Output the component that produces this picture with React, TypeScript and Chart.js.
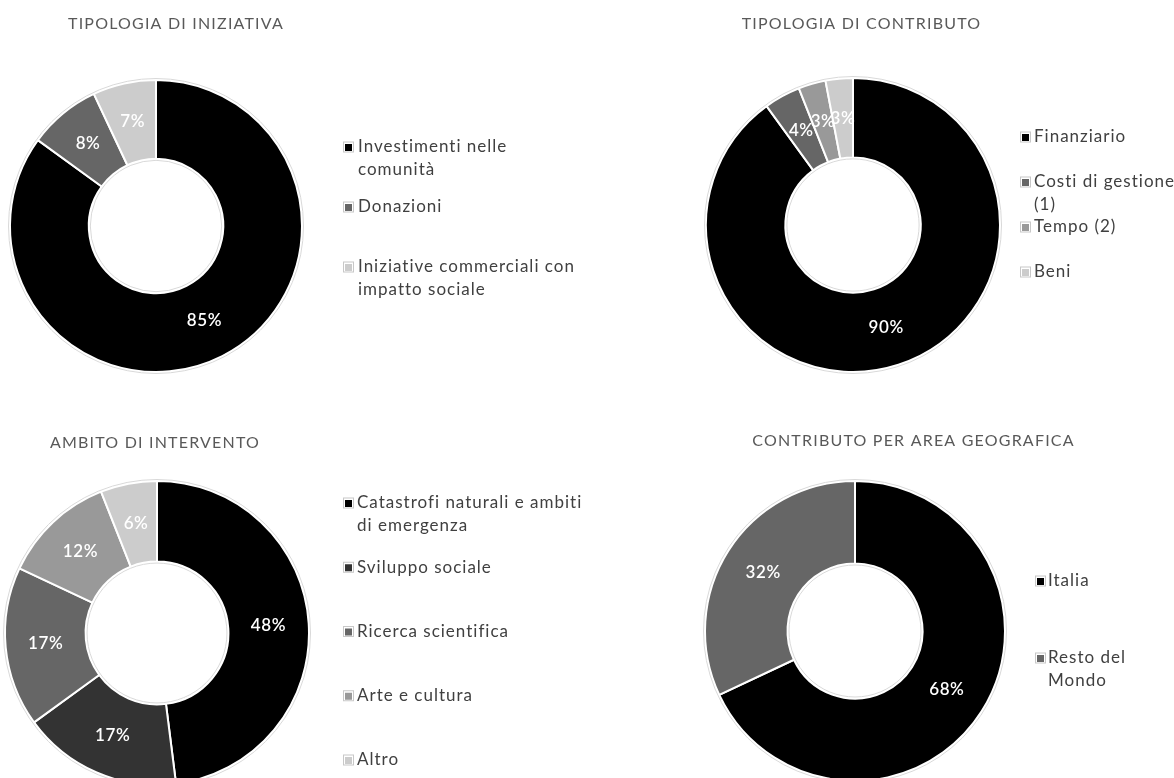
import React, { useEffect, useRef } from "react";
import { Chart, registerables } from "chart.js";

Chart.register(...registerables);

const FONT = "Lato, 'DejaVu Sans', sans-serif";

// ---- Data ----
const iniziativaLabels = ["Investimenti nelle\ncomunità", "Donazioni", "Iniziative commerciali con\nimpatto sociale"];
const iniziativaValues = [85, 8, 7];

const contributoLabels = ["Finanziario", "Costi di gestione\n(1)", "Tempo (2)", "Beni"];
const contributoValues = [90, 4, 3, 3];

const ambitoLabels = [
  "Catastrofi naturali e ambiti\ndi emergenza",
  "Sviluppo sociale",
  "Ricerca scientifica",
  "Arte e cultura",
  "Altro",
];
const ambitoValues = [48, 17, 17, 12, 6];

const areaLabels = ["Italia", "Resto del\nMondo"];
const areaValues = [68, 32];

// ---- Styles / layout ----
const PAL3 = ["#000000", "#666666", "#cccccc"];
const PAL4 = ["#000000", "#666666", "#999999", "#cccccc"];
const PAL5 = ["#000000", "#333333", "#666666", "#999999", "#cccccc"];
const PAL2 = ["#000000", "#666666"];

const QW = 587;
const QH = 389;

type Panel = {
  title: string;
  labels: string[];
  values: number[];
  colors: string[];
  left: number;
  top: number;
  cx: number;
  cy: number;
  r: number;
  cutout: string;
  titleX: number;
  titleY: number;
  markerX: number;
  textX: number;
  legendY: number;
  legendStep: number;
};

const panels: Panel[] = [
  {
    title: "TIPOLOGIA DI INIZIATIVA",
    labels: iniziativaLabels,
    values: iniziativaValues,
    colors: PAL3,
    left: 0, top: 0,
    cx: 156, cy: 226, r: 146, cutout: "46%",
    titleX: 176, titleY: 24,
    markerX: 343, textX: 358, legendY: 147, legendStep: 60,
  },
  {
    title: "TIPOLOGIA DI CONTRIBUTO",
    labels: contributoLabels,
    values: contributoValues,
    colors: PAL4,
    left: QW, top: 0,
    cx: 266, cy: 225, r: 147, cutout: "46%",
    titleX: 274.5, titleY: 24,
    markerX: 433, textX: 447, legendY: 137, legendStep: 45,
  },
  {
    title: "AMBITO DI INTERVENTO",
    labels: ambitoLabels,
    values: ambitoValues,
    colors: PAL5,
    left: 0, top: QH,
    cx: 157, cy: 244, r: 152, cutout: "47%",
    titleX: 155, titleY: 54,
    markerX: 343, textX: 357, legendY: 114, legendStep: 64.25,
  },
  {
    title: "CONTRIBUTO PER AREA GEOGRAFICA",
    labels: areaLabels,
    values: areaValues,
    colors: PAL2,
    left: QW, top: QH,
    cx: 268, cy: 242, r: 150, cutout: "45%",
    titleX: 326.5, titleY: 52,
    markerX: 448, textX: 461, legendY: 192, legendStep: 77,
  },
];

const decorPlugin = {
  id: "decor",
  afterDatasetsDraw(chart: any) {
    const ctx: CanvasRenderingContext2D = chart.ctx;
    const meta = chart.getDatasetMeta(0);
    const a0: any = meta.data[0];
    if (!a0) return;
    const { x, y, outerRadius, innerRadius } = a0.getProps(["x", "y", "outerRadius", "innerRadius"], true);
    ctx.save();
    ctx.strokeStyle = "#d9d9d9";
    ctx.lineWidth = 1;
    ctx.beginPath();
    ctx.arc(x, y, outerRadius + 1.5, 0, Math.PI * 2);
    ctx.stroke();
    ctx.beginPath();
    ctx.arc(x, y, innerRadius - 1.5, 0, Math.PI * 2);
    ctx.stroke();

    // value labels at the middle of each ring segment
    ctx.font = `600 17px ${FONT}`;
    (ctx as any).letterSpacing = "0.6px";
    ctx.fillStyle = "#ffffff";
    ctx.textAlign = "center";
    ctx.textBaseline = "middle";
    const values = chart.data.datasets[0].data as number[];
    meta.data.forEach((el: any, i: number) => {
      const p = el.tooltipPosition(true);
      ctx.fillText(values[i] + "%", p.x, p.y);
    });
    ctx.restore();
  },
  afterDraw(chart: any, _args: any, opts: any) {
    const ctx: CanvasRenderingContext2D = chart.ctx;
    ctx.save();
    // title
    ctx.font = `400 16px ${FONT}`;
    (ctx as any).letterSpacing = "1.2px";
    ctx.fillStyle = "#595959";
    ctx.textAlign = "center";
    ctx.textBaseline = "middle";
    ctx.fillText(opts.title, opts.titleX, opts.titleY);

    // legend
    const labels: string[] = chart.data.labels;
    const colors: string[] = chart.data.datasets[0].backgroundColor;
    ctx.font = `400 17px ${FONT}`;
    (ctx as any).letterSpacing = "1px";
    ctx.textAlign = "left";
    labels.forEach((lab, i) => {
      const yy = opts.legendY + i * opts.legendStep;
      ctx.fillStyle = "#ffffff";
      ctx.fillRect(opts.markerX, yy - 5.5, 11, 11);
      ctx.strokeStyle = "#c8c8c8";
      ctx.lineWidth = 1;
      ctx.strokeRect(opts.markerX + 0.5, yy - 5, 10, 10);
      ctx.fillStyle = colors[i];
      ctx.fillRect(opts.markerX + 2, yy - 3, 7, 7);
      ctx.fillStyle = "#404040";
      lab.split("\n").forEach((line, j) => {
        ctx.fillText(line, opts.textX, yy + j * 23);
      });
    });
    ctx.restore();
  },
};

function DonutPanel({ p }: { p: Panel }) {
  const ref = useRef<HTMLCanvasElement | null>(null);
  useEffect(() => {
    if (!ref.current) return;
    const h = 100;
    const chart = new Chart(ref.current, {
      type: "doughnut",
      data: {
        labels: p.labels,
        datasets: [
          {
            data: p.values,
            backgroundColor: p.colors,
            borderColor: "#ffffff",
            borderWidth: 2,
            hoverOffset: 0,
            clip: false,
          } as any,
        ],
      },
      options: {
        animation: false,
        responsive: false,
        events: [],
        radius: p.r,
        cutout: p.cutout,
        layout: {
          padding: {
            left: p.cx - h,
            right: QW - p.cx - h,
            top: p.cy - h,
            bottom: QH - p.cy - h,
          },
        },
        plugins: {
          legend: { display: false },
          tooltip: { enabled: false },
          title: { display: false },
          decor: {
            title: p.title,
            titleX: p.titleX,
            titleY: p.titleY,
            markerX: p.markerX,
            textX: p.textX,
            legendY: p.legendY,
            legendStep: p.legendStep,
          },
        } as any,
      } as any,
      plugins: [decorPlugin as any],
    });
    return () => chart.destroy();
  }, [p]);
  return (
    <canvas
      ref={ref}
      width={QW}
      height={QH}
      style={{ position: "absolute", left: p.left, top: p.top, width: QW, height: QH }}
    />
  );
}

export default function App() {
  return (
    <div
      style={{
        position: "absolute",
        left: 0,
        top: 0,
        width: 1174,
        height: 778,
        overflow: "hidden",
        background: "#ffffff",
      }}
    >
      {panels.map((p, i) => (
        <DonutPanel key={i} p={p} />
      ))}
    </div>
  );
}
